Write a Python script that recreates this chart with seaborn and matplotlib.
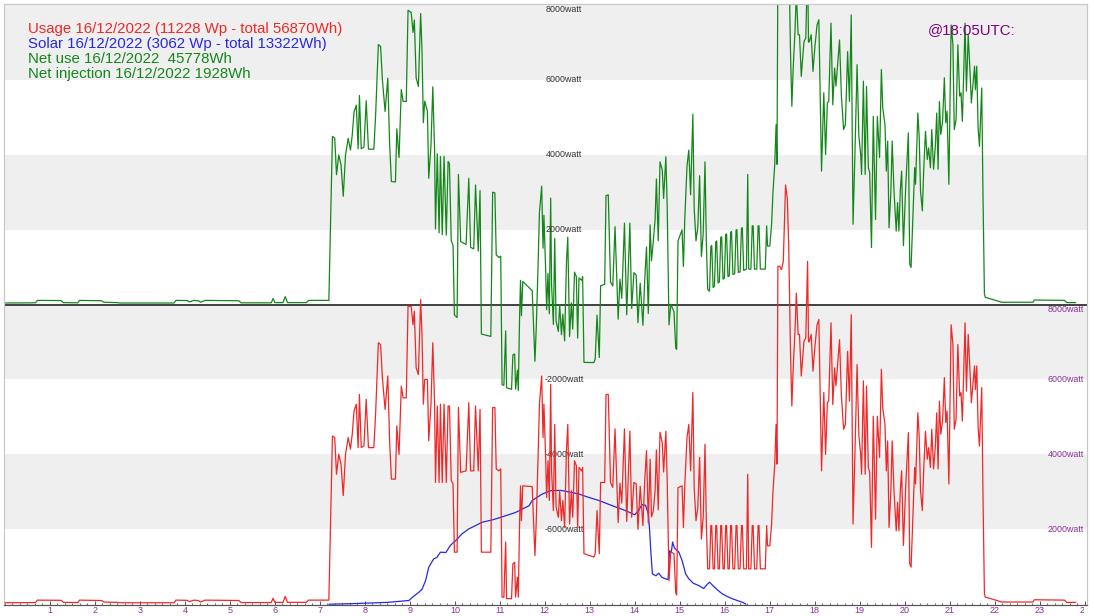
import numpy as np
import pandas as pd
import matplotlib
matplotlib.use("Agg")
import matplotlib.pyplot as plt
import seaborn as sns
from matplotlib.transforms import Bbox, TransformedBbox

# ---------------- data (hours, watts) ----------------
usage_h = [0.00, 0.68, 0.72, 1.25, 1.30, 1.62, 1.66, 2.15, 2.20, 2.50, 2.55, 3.76, 3.80, 4.05, 4.10, 4.20,
           4.30, 4.35, 4.45, 5.20, 5.25, 5.92, 5.96, 6.00, 6.18, 6.23, 6.28, 6.70, 6.75, 7.20,
           7.28, 7.33, 7.37, 7.42, 7.47, 7.52, 7.57, 7.63, 7.68, 7.72, 7.76, 7.81, 7.85, 7.88, 7.92, 7.98,
           8.03, 8.08, 8.20, 8.24, 8.30, 8.35, 8.39, 8.45, 8.51, 8.55, 8.59, 8.68, 8.71, 8.76, 8.81, 8.85,
           8.92, 8.96, 9.03, 9.07, 9.10, 9.14, 9.19, 9.24, 9.27, 9.30, 9.33, 9.39, 9.42, 9.47, 9.51, 9.55,
           9.57, 9.61, 9.65, 9.68, 9.72, 9.76, 9.81, 9.85, 9.88, 9.92, 9.96, 9.99, 10.05, 10.08, 10.13,
           10.25, 10.31, 10.35, 10.42, 10.46, 10.52, 10.56, 10.59, 10.80, 10.84, 10.89, 10.92, 10.98, 11.02,
           11.05, 11.09, 11.13, 11.15, 11.26, 11.29, 11.33, 11.35, 11.39, 11.41, 11.44, 11.46, 11.48, 11.51,
           11.72, 11.74, 11.78, 11.81, 11.85, 11.88, 11.93, 11.96, 11.98, 12.02, 12.04, 12.07, 12.10, 12.13,
           12.15, 12.19, 12.22, 12.25, 12.30, 12.33, 12.37, 12.40, 12.44, 12.48, 12.51, 12.55, 12.59, 12.62,
           12.66, 12.70, 12.73, 12.76, 12.82, 12.84, 12.87, 13.09, 13.12, 13.16, 13.21, 13.24, 13.33, 13.36,
           13.41, 13.46, 13.51, 13.56, 13.63, 13.67, 13.71, 13.77, 13.82, 13.89, 13.93, 13.98, 14.03, 14.07,
           14.12, 14.18, 14.22, 14.26, 14.30, 14.34, 14.37, 14.41, 14.45, 14.48, 14.52, 14.56, 14.61, 14.64,
           14.69, 14.72, 14.76, 14.80, 14.87, 14.91, 14.93, 14.96,
           15.05, 15.08, 15.11, 15.16, 15.20, 15.24, 15.29, 15.32, 15.36, 15.40, 15.44, 15.48, 15.52, 15.56,
           15.59, 15.62, 15.66, 15.69, 15.71, 15.74, 15.77, 15.80, 15.82, 15.85, 15.88, 15.91, 15.93, 15.96,
           15.99, 16.02, 16.04, 16.07, 16.10, 16.13, 16.15, 16.18, 16.22, 16.25, 16.27, 16.30, 16.34, 16.37,
           16.39, 16.42, 16.48, 16.51, 16.53, 16.58, 16.61, 16.63, 16.66, 16.71, 16.74, 16.76, 16.79, 16.90,
           16.93, 16.95, 17.00, 17.04, 17.07, 17.11, 17.14, 17.16, 17.18, 17.22, 17.26, 17.30, 17.35, 17.39,
           17.42, 17.46, 17.49, 17.52, 17.56, 17.59, 17.63, 17.66, 17.70, 17.76, 17.80, 17.84, 17.86, 17.88,
           17.92, 17.96, 18.00, 18.05, 18.09, 18.15, 18.20, 18.24, 18.28, 18.31, 18.36, 18.40, 18.44, 18.47,
           18.55, 18.59, 18.64, 18.68, 18.73, 18.77, 18.81, 18.85, 18.89, 18.94, 18.98, 19.02, 19.04, 19.08,
           19.12, 19.15, 19.19, 19.22, 19.26, 19.30, 19.35, 19.39, 19.44, 19.48, 19.51, 19.56, 19.59, 19.62,
           19.65, 19.69, 19.72, 19.76, 19.81, 19.84, 19.87, 19.90, 19.93, 19.97, 20.02, 20.08, 20.11, 20.14,
           20.18, 20.22, 20.24, 20.29, 20.32, 20.35, 20.39, 20.42, 20.46, 20.50, 20.53, 20.57, 20.60, 20.64,
           20.68, 20.71, 20.74, 20.77, 20.80, 20.84, 20.88, 20.91, 20.94, 20.98, 21.03, 21.07, 21.10, 21.14,
           21.18, 21.22, 21.25, 21.28, 21.34, 21.37, 21.41, 21.45, 21.48, 21.52, 21.55, 21.57, 21.60, 21.63,
           21.66, 21.71, 21.74, 21.77, 21.79, 21.85, 22.05, 22.15, 22.85, 22.88, 23.55, 23.60, 23.80]
usage_w = [40, 45, 110, 105, 50, 45, 110, 100, 60, 50, 40, 40, 110, 105, 70, 110,
           100, 60, 110, 100, 45, 45, 160, 50, 50, 210, 50, 50, 110, 110,
           4490, 4450, 3470, 4000, 3740, 2900, 4000, 4450, 4140, 4540, 5160, 5340, 4180, 5600, 4180, 4230,
           5470, 4180, 4180, 5110, 6980, 6930, 6040, 5200, 6090, 4360, 3340, 3340, 4760, 4000, 5820, 5510,
           5510, 7950, 7950, 7460, 7820, 6310, 6130, 8130, 7200, 5340, 6000, 6000, 4360, 5340, 6980, 5340,
           3250, 5290, 3250, 5340, 3250, 5340, 3250, 5290, 5290, 3300, 3210, 1390, 1390, 5250, 3520,
           3560, 5380, 3560, 3560, 5290, 3560, 5200, 1390, 1390, 5250, 5250, 3610, 3560, 3610,
           190, 190, 1660, 150, 150, 1080, 1120, 190, 720, 190, 2230, 3160, 2230, 3160,
           3140, 2500, 1300, 2230, 3920, 5340, 6090, 4450, 5340, 3830, 2850, 3830, 2770, 5870,
           3560, 2500, 4800, 2590, 2320, 3030, 2230, 2770, 2050, 4100, 4800, 2140, 3030, 2320,
           3830, 3700, 2050, 3650, 3560, 3650, 1350, 1260, 1350, 2500, 1350, 3250, 3250, 5600,
           5600, 3250, 3120, 4680, 2180, 3230, 2700, 4680, 2210, 4620, 2320, 3250, 3220, 2000,
           3150, 2100, 3300, 4100, 2170, 3870, 2330, 2480, 3020, 4120, 2520, 4590, 4310, 3530,
           4620, 3280, 630, 1400, 1350, 300, 250, 3110,
           3160, 2050, 3160, 4450, 4800, 3560, 5650, 3100, 2230, 2570, 3920, 1740, 2320, 4270,
           2140, 945, 945, 2100, 2100, 945, 945, 2100, 2100, 945, 945, 2100, 2100, 945,
           945, 2100, 2100, 945, 945, 2100, 2100, 945, 945, 2100, 2100, 945, 945, 2100,
           2100, 945, 945, 3470, 945, 945, 2100, 2100, 945, 945, 2100, 2100, 945, 945,
           2100, 1560, 1560, 2140, 2990, 3740, 4800, 3740, 9020, 9020, 8930, 9150, 11190, 10830,
           9590, 6750, 5290, 6310, 7290, 8300, 7200, 7200, 6090, 7020, 7110, 9150, 7000, 7020,
           7200, 6220, 6840, 7460, 7600, 3560, 5650, 4000, 5380, 5420, 7510, 5330, 6310, 5830,
           7060, 5600, 4670, 4800, 6750, 5420, 7730, 2140, 3920, 6400, 4500, 4000, 3470, 5960,
           3470, 5820, 3650, 3520, 1520, 5020, 2270, 5020, 3920, 6270, 5250, 4800, 3560, 4360,
           2050, 2980, 4360, 3030, 1960, 2720, 1960, 3030, 3560, 1570, 3120, 4580, 1080, 990,
           2320, 3650, 3210, 5110, 4490, 3030, 2500, 3560, 4620, 3870, 4180, 3650, 4670, 3610,
           4230, 5110, 3610, 5420, 4540, 4890, 6050, 4850, 5160, 3210, 7460, 6930, 4670, 4940,
           6930, 5560, 5650, 4890, 7510, 5690, 7200, 6220, 5380, 5960, 6360, 5730, 6360, 4710,
           4220, 5780, 2760, 280, 190, 170, 100, 60, 60, 120, 110, 50, 50]

solar_h = [7.20, 7.80, 8.50, 8.98, 9.05, 9.20, 9.27, 9.35, 9.42, 9.53, 9.60, 9.68, 9.80, 9.90, 10.02,
           10.16, 10.31, 10.46, 10.61, 10.83, 11.02, 11.20, 11.35, 11.50, 11.65, 11.72, 11.94, 12.13, 12.35,
           12.53, 12.76, 12.98, 13.20, 13.50, 13.79, 14.00, 14.08, 14.16, 14.24, 14.30, 14.33, 14.35, 14.39,
           14.47, 14.53, 14.60, 14.68, 14.74, 14.77, 14.81, 14.84, 14.88, 14.98, 15.05, 15.13, 15.20, 15.30,
           15.42, 15.53, 15.60, 15.66, 15.75, 15.85, 15.94, 16.05, 16.16, 16.30, 16.40, 16.47]
solar_w = [0, 20, 50, 100, 180, 320, 400, 630, 990, 1210, 1250, 1390, 1380, 1570, 1700,
           1880, 2010, 2100, 2190, 2250, 2320, 2390, 2450, 2540, 2630, 2770, 2940, 3030, 3040,
           3000, 2940, 2850, 2770, 2630, 2500, 2390, 2500, 2660, 2640, 2410, 1970, 1520, 810,
           760, 830, 720, 680, 660, 1430, 1380, 1660, 1500, 1390, 1170, 810, 680, 560,
           500, 420, 520, 590, 480, 370, 280, 210, 150, 90, 50, 0]

hour_ticks = list(range(1, 25))
green_levels = [8000, 6000, 4000, 2000, -2000, -4000, -6000]
red_levels = [8000, 6000, 4000, 2000]

legend_lines = ["Usage 16/12/2022 (11228 Wp - total 56870Wh)",
                "Solar 16/12/2022 (3062 Wp - total 13322Wh)",
                "Net use 16/12/2022  45778Wh",
                "Net injection 16/12/2022 1928Wh"]
stamp = "@18:05UTC:"

# ---------------- frames ----------------
usage = pd.DataFrame({"hour": usage_h, "watt": usage_w})
solar = pd.DataFrame({"hour": solar_h, "watt": solar_w})
# net = usage - solar (solar taken on the usage time stamps)
net = pd.DataFrame({"hour": usage_h,
                    "watt": np.array(usage_w) - np.interp(usage_h, solar_h, solar_w, left=0, right=0)})

# ---------------- style ----------------
sns.set_style("white")
plt.rcParams["font.family"] = ["Liberation Sans", "DejaVu Sans"]

RED = "#f02828"
BLUE = "#2828e6"
GREEN = "#15871a"
PURPLE = "#8a2f9a"

fig = plt.figure(figsize=(10.94, 6.16), dpi=100)
L, R, B, T = 4 / 1094, 1087 / 1094, 1 - 605 / 616, 1 - 4 / 616
ax = fig.add_axes([L, B, R - L, T - B])
ax2 = ax.twinx()

# background bands (net axis)
for lo, hi in [(6000, 8100), (2000, 4000), (-2000, 0), (-6000, -4000)]:
    ax.axhspan(lo, hi, color="#efefef", lw=0, zorder=0)
ax.axhline(0, color="#333333", lw=1.3, zorder=1)

sns.lineplot(data=net, x="hour", y="watt", ax=ax, color=GREEN, lw=0.9,
             estimator=None, sort=False, zorder=2)
sns.lineplot(data=solar, x="hour", y="watt", ax=ax2, color=BLUE, lw=0.9,
             estimator=None, sort=False, zorder=2)
sns.lineplot(data=usage, x="hour", y="watt", ax=ax2, color=RED, lw=0.9,
             estimator=None, sort=False, zorder=3)

ax.set_xlim(-0.02, 24.05)
ax.set_ylim(-8020, 8020)
ax2.set_ylim(-20, 16020)
for a in (ax, ax2):
    a.set_ylabel("")
    a.set_xlabel("")
    a.set_yticks([])
    for s in a.spines.values():
        s.set_color("#c8c8c8")
        s.set_linewidth(0.8)
ax.spines["bottom"].set_color("#555555")
ax2.spines["bottom"].set_color("#555555")

ax.set_xticks(hour_ticks)
ax.set_xticklabels([str(h) for h in hour_ticks])
ax.set_xticks(np.arange(0, 24.01, 1 / 6), minor=True)
ax.tick_params(axis="x", which="major", direction="in", length=3, width=0.7, color="#555555",
               labelsize=6.5, labelcolor=PURPLE, pad=1)
ax.tick_params(axis="x", which="minor", direction="in", length=1.8, width=0.6, color="#555555")
ax.tick_params(axis="x", which="both", bottom=True)

# clip the last hour label at the plot's right border, as in the original
fig.canvas.draw()
clip = TransformedBbox(Bbox([[0, 0], [1084 / 1094, 1]]), fig.transFigure)
lab = ax.xaxis.get_major_ticks()[-1].label1
lab.set_clip_on(True)
lab.set_clip_box(clip)

# value labels
xc = (564 - 4) / 1083
for v in green_levels:
    ax.text(xc, v, f"{v}watt", transform=ax.get_yaxis_transform(), ha="center",
            va="top" if v == 8000 else "center", fontsize=6.4, color="#333333", zorder=5)
for v in red_levels:
    ax2.text(0.997, v, f"{v}watt", transform=ax2.get_yaxis_transform(), ha="right",
             va="top" if v == 8000 else "center", fontsize=6.4, color=PURPLE, zorder=5)

# legend-like header text
for i, (txt, col) in enumerate(zip(legend_lines, [RED, BLUE, GREEN, GREEN])):
    fig.text(28 / 1094, 1 - (29 + 15 * i) / 616, txt, color=col, fontsize=10.8, va="center", ha="left")
fig.text(928 / 1094, 1 - 30 / 616, stamp, color="#800080", fontsize=10.8, va="center", ha="left")

fig.savefig("out.png", dpi=100)
